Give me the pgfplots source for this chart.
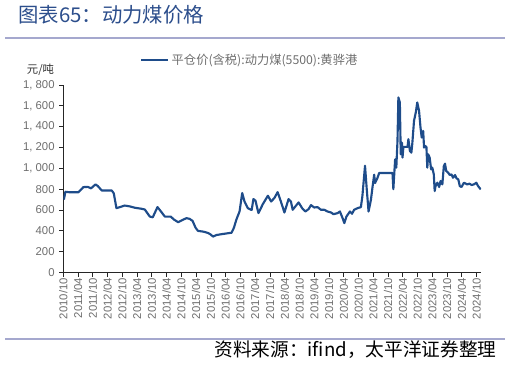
\documentclass[border=0pt]{standalone}
\usepackage{pgfplots}
\pgfplotsset{compat=1.18}
\usepackage{fontspec}
\setmainfont{Liberation Sans}
\newfontfamily\cjk{Noto Sans CJK SC}
\definecolor{titleblue}{RGB}{44,78,140}
\definecolor{lineblue}{RGB}{30,76,138}
\definecolor{rulecol}{RGB}{165,168,206}
\definecolor{ticklab}{RGB}{110,110,110}
\begin{document}
\begin{tikzpicture}
\path[use as bounding box] (0,0) rectangle (380.25pt,273.75pt);
% title
\node[anchor=west, inner sep=0pt, text=titleblue] at (13.5pt,262.5pt) {\cjk\fontsize{15.3}{17}\selectfont 图表65：动力煤价格};
\draw[rulecol, line width=1.5pt] (3.75pt,245.5pt) -- (378.75pt,245.5pt);
\draw[rulecol, line width=1.5pt] (3.75pt,19.5pt) -- (378.75pt,19.5pt);
\node[anchor=east, inner sep=0pt] at (372.5pt,11.5pt) {\cjk\fontsize{14}{16}\selectfont 资料来源：ifind，太平洋证券整理};
\node[anchor=west, inner sep=0pt, text=black!80] at (20pt,221.25pt) {\cjk\fontsize{8.5}{10}\selectfont 元/吨};
\begin{axis}[
  at={(47.475pt,69.375pt)}, anchor=south west,
  scale only axis, width=313.3pt, height=140.6pt,
  xmin=2010.75, xmax=2024.9, ymin=0, ymax=1800,
  axis x line*=bottom, axis y line*=left,
  axis line style={-, black!85, line width=0.6pt},
  tick align=outside, major tick length=3pt,
  tick style={black!85, line width=0.6pt},
  xtick={2010.75,2011.25,2011.75,2012.25,2012.75,2013.25,2013.75,2014.25,2014.75,2015.25,2015.75,2016.25,2016.75,2017.25,2017.75,2018.25,2018.75,2019.25,2019.75,2020.25,2020.75,2021.25,2021.75,2022.25,2022.75,2023.25,2023.75,2024.25,2024.75},
  xticklabels={2010/10,2011/04,2011/10,2012/04,2012/10,2013/04,2013/10,2014/04,2014/10,2015/04,2015/10,2016/04,2016/10,2017/04,2017/10,2018/04,2018/10,2019/04,2019/10,2020/04,2020/10,2021/04,2021/10,2022/04,2022/10,2023/04,2023/10,2024/04,2024/10},
  xticklabel style={rotate=90, anchor=east, font=\fontsize{8.5}{10}\selectfont, text=ticklab, inner sep=1pt},
  ytick={0,200,...,1800},
  yticklabel style={font=\fontsize{8.5}{10}\selectfont, text=ticklab},
  /pgf/number format/assume math mode=true,
  /pgf/number format/1000 sep={,\ },
  legend style={at={(0.1836,1.133)}, anchor=west, draw=none, fill=none, inner sep=0pt, font=\cjk\fontsize{9.2}{10}\selectfont, text=ticklab, /tikz/every even column/.append style={column sep=3pt}},
  legend image code/.code={\draw[#1, line width=1.6pt] (0pt,0pt) -- (20pt,0pt);},
]
\addplot[lineblue, line width=1.6pt, line join=round] coordinates {
(2010.77,700)(2010.82,775)(2010.98,770)(2011.26,770)(2011.43,820)(2011.58,822)(2011.69,808)(2011.84,846)(2011.92,830)
(2012.05,788)(2012.39,788)(2012.46,760)(2012.55,618)(2012.67,628)(2012.83,643)(2013.0,635)(2013.17,622)(2013.40,612)
(2013.51,605)(2013.68,537)(2013.78,530)(2013.94,628)(2014.02,600)(2014.19,537)(2014.39,537)(2014.49,510)(2014.64,483)
(2014.76,500)(2014.92,522)(2015.03,515)(2015.13,495)(2015.23,430)(2015.31,400)(2015.50,392)(2015.65,380)(2015.74,365)
(2015.82,345)(2015.94,360)(2016.11,368)(2016.28,375)(2016.45,382)(2016.53,430)(2016.61,506)(2016.72,586)(2016.81,763)
(2016.89,680)(2017.0,618)(2017.13,600)(2017.19,705)(2017.26,690)(2017.36,570)(2017.51,657)(2017.68,737)(2017.79,682)
(2017.90,715)(2018.01,772)(2018.12,682)(2018.24,576)(2018.38,705)(2018.46,682)(2018.52,602)(2018.61,634)(2018.72,673)
(2018.84,618)(2018.95,586)(2019.06,609)(2019.14,647)(2019.25,624)(2019.36,628)(2019.48,602)(2019.59,602)(2019.70,586)
(2019.82,576)(2019.90,560)(2020.04,570)(2020.12,586)(2020.21,522)(2020.27,474)(2020.34,537)(2020.46,586)(2020.53,564)
(2020.60,602)(2020.72,618)(2020.83,628)(2020.88,730)(2020.97,1025)(2021.03,795)(2021.09,586)(2021.17,698)(2021.22,811)
(2021.28,939)(2021.31,859)(2021.39,907)(2021.45,956)(2021.90,956)(2021.93,800)(2021.99,1087)(2022.03,1007)(2022.07,1264)
(2022.10,1681)(2022.15,1633)(2022.18,1135)(2022.22,1248)(2022.24,1103)(2022.27,1206)(2022.41,1206)(2022.44,1280)
(2022.49,1168)(2022.54,1151)(2022.57,1231)(2022.63,1457)(2022.69,1537)(2022.74,1633)(2022.80,1553)(2022.85,1392)
(2022.89,1296)(2022.94,1360)(2022.97,1199)(2023.00,1216)(2023.05,1206)(2023.08,1007)(2023.11,1135)(2023.16,1103)
(2023.21,990)(2023.25,1007)(2023.30,942)(2023.33,782)(2023.36,830)(2023.42,862)(2023.48,821)(2023.53,879)(2023.59,846)
(2023.64,1023)(2023.68,1045)(2023.72,975)(2023.79,958)(2023.84,936)(2023.90,942)(2023.95,910)(2024.02,936)(2024.07,904)
(2024.13,894)(2024.18,830)(2024.24,821)(2024.32,862)(2024.43,846)(2024.51,853)(2024.58,840)(2024.66,846)(2024.74,862)
(2024.80,830)(2024.89,798)
};
\addlegendentry{平仓价(含税):动力煤(5500):黄骅港}
\end{axis}
\end{tikzpicture}
\end{document}
